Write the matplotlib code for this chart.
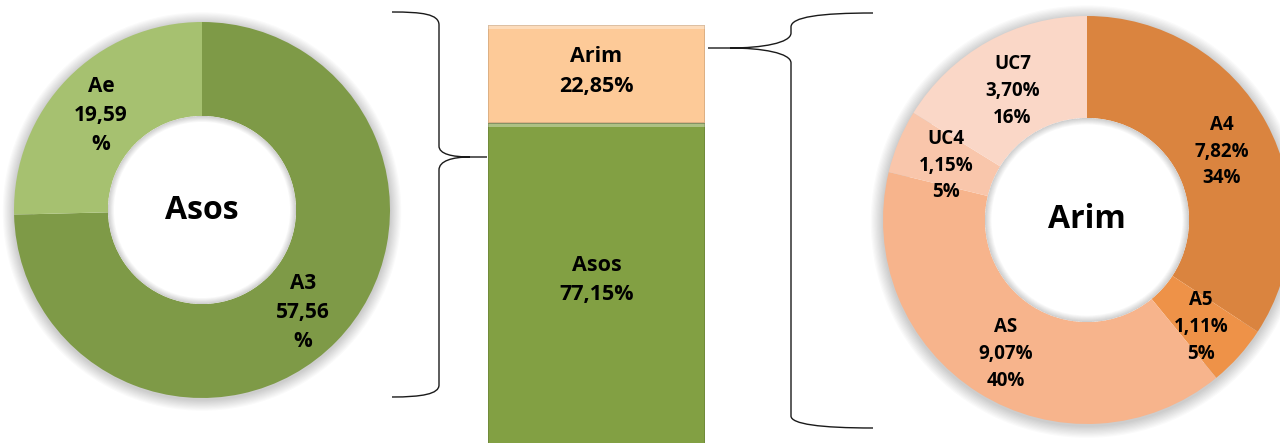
import matplotlib
matplotlib.use("Agg")
import matplotlib.pyplot as plt
from matplotlib.path import Path
from matplotlib.patches import PathPatch, Wedge
import numpy as np

plt.rcParams['font.family'] = ['Open Sans', 'DejaVu Sans']

# ---------------- data ----------------
asos_labels = ["A3", "Ae"]
asos_values = [57.56, 19.59]
asos_colors = ["#7E9A47", "#A6C170"]

bar_labels = ["Asos", "Arim"]
bar_values = [77.15, 22.85]
bar_colors = ["#82A043", "#FDCA98"]

arim_labels = ["A4", "A5", "AS", "UC4", "UC7"]
arim_values = [7.82, 1.11, 9.07, 1.15, 3.70]
arim_shares = [34, 5, 40, 5, 16]
arim_colors = ["#DA843F", "#EE9248", "#F7B48C", "#F9C6AB", "#FAD7C7"]

center_titles = ["Asos", "Arim"]


def fmt(v):
    return f"{v:.2f}".replace(".", ",")


W, H = 1280, 443
fig = plt.figure(figsize=(W / 100, H / 100), dpi=100)
fig.patch.set_facecolor("white")


def px_axes(x0, y0, w, h, z=1):
    ax = fig.add_axes([x0 / W, 1 - (y0 + h) / H, w / W, h / H], zorder=z)
    ax.set_axis_off()
    return ax


def donut(cx, cy, r, values, colors, texts, title, fs, title_fs, ls):
    pad = 1.12
    ax = px_axes(cx - r * pad, cy - r * pad, 2 * r * pad, 2 * r * pad)
    # soft outer shadow (rings outside the donut)
    for k in range(10):
        rr = 1.0 + 0.006 * (k + 1)
        ax.add_patch(Wedge((0.0, -0.008), rr, 0, 360, width=rr - 0.9,
                           facecolor="#000000", alpha=0.02, edgecolor="none",
                           zorder=0))
    wedges, _ = ax.pie(values, colors=colors, startangle=90, counterclock=False,
                       radius=1.0, wedgeprops=dict(width=0.5, edgecolor="none"))
    # white hole + inner shadow
    ax.add_patch(Wedge((0, 0), 0.5, 0, 360, facecolor="white",
                       edgecolor="none", zorder=4))
    for k in range(8):
        ax.add_patch(Wedge((0, 0), 0.5, 0, 360, width=0.004 * (k + 1),
                           facecolor="#000000", alpha=0.025, edgecolor="none",
                           zorder=5))
    for w, t in zip(wedges, texts):
        ang = np.deg2rad((w.theta1 + w.theta2) / 2)
        ax.text(0.75 * np.cos(ang), 0.75 * np.sin(ang) - 0.022, t,
                ha="center", va="center", fontsize=fs, fontweight="bold",
                linespacing=ls, zorder=6)
    ax.text(0, 0, title, ha="center", va="center", fontsize=title_fs,
            fontweight="bold", zorder=6)
    ax.set_xlim(-pad, pad)
    ax.set_ylim(-pad, pad)
    ax.set_aspect("equal")
    return ax


# left donut
asos_texts = [f"{n}\n{fmt(v)}\n%" for n, v in zip(asos_labels, asos_values)]
donut(202, 210, 188, asos_values, asos_colors, asos_texts, center_titles[0],
      15, 23, 1.5)

# right donut
arim_texts = [f"{n}\n{fmt(v)}%\n{s}%" for n, v, s in
              zip(arim_labels, arim_values, arim_shares)]
donut(1087, 220, 204, arim_values, arim_colors, arim_texts, center_titles[1],
      13.5, 23, 1.45)

# middle stacked bar
axb = px_axes(488, 25, 217, 429)
axb.set_xlim(-0.5, 0.5)
axb.set_ylim(0, 100)
bottom = 0.0
for lab, v, c in zip(bar_labels, bar_values, bar_colors):
    axb.bar(0, v, bottom=bottom, width=1.0, color=c, edgecolor="none")
    # bevel: light top band, darker outline
    axb.bar(0, 1.0, bottom=bottom + v - 1.0, width=1.0, color="white",
            alpha=0.35, edgecolor="none")
    axb.bar(0, v, bottom=bottom, width=1.0, color="none",
            edgecolor="#000000", linewidth=1.2, alpha=0.15)
    axb.text(0, bottom + v / 2 + (2.0 if lab == "Asos" else 0.6),
             f"{lab}\n{fmt(v)}%", ha="center", va="center", fontsize=15.5,
             fontweight="bold", linespacing=1.55)
    bottom += v

# braces overlay
ov = fig.add_axes([0, 0, 1, 1], zorder=10)
ov.set_xlim(0, W)
ov.set_ylim(H, 0)
ov.set_axis_off()
ov.patch.set_alpha(0)

M, L, C = Path.MOVETO, Path.LINETO, Path.CURVE4

left_brace = [
    ((392, 12), M), ((422, 12), C), ((439, 14), C), ((439, 25), C),
    ((439, 146), L), ((439, 154), C), ((452, 157), C), ((470, 157), C),
    ((487, 157), L),
    ((470, 157), M), ((452, 157), C), ((439, 161), C), ((439, 170), C),
    ((439, 385), L), ((439, 394), C), ((422, 397), C), ((392, 397), C),
]
right_brace = [
    ((873, 13), M), ((820, 13), C), ((791, 17), C), ((791, 27), C),
    ((791, 33), L), ((791, 43), C), ((762, 48), C), ((730, 48), C),
    ((708, 48), L),
    ((730, 48), M), ((762, 48), C), ((791, 53), C), ((791, 63), C),
    ((791, 416), L), ((791, 424), C), ((820, 428), C), ((873, 428), C),
]
for br in (left_brace, right_brace):
    verts = [p for p, _ in br]
    codes = [c for _, c in br]
    ov.add_patch(PathPatch(Path(verts, codes), facecolor="none",
                           edgecolor="#1a1a1a", linewidth=1.0))

fig.savefig("out.png", dpi=100, facecolor="white")
